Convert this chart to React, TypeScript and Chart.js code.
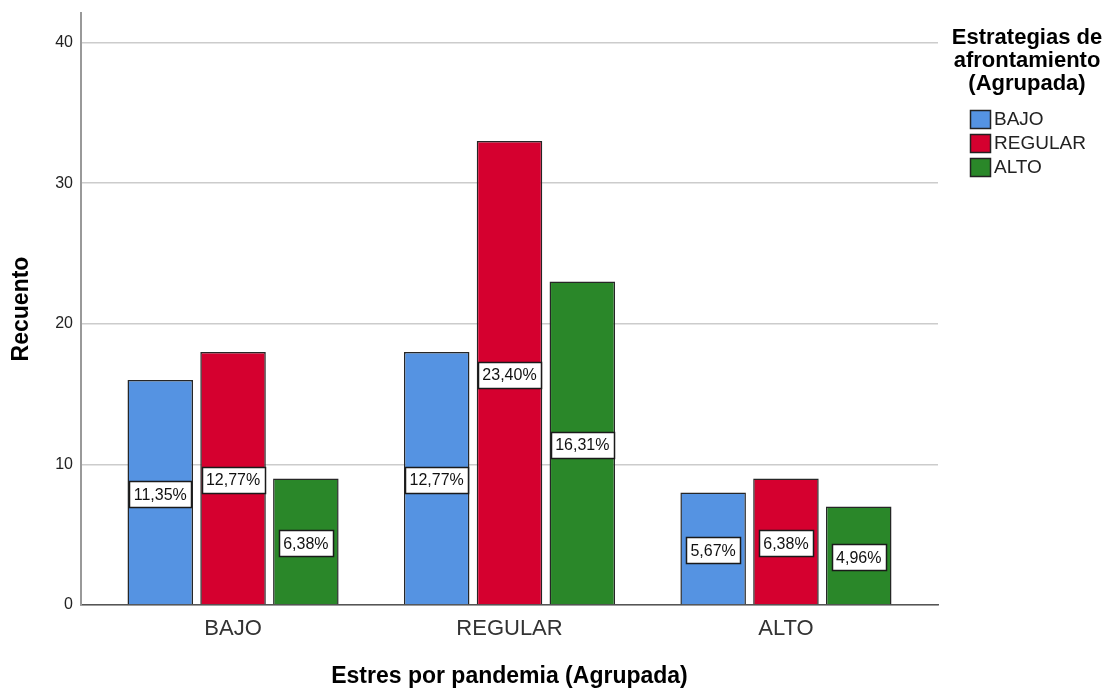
import React, { useEffect, useRef } from "react";
import { Chart, registerables } from "chart.js";

Chart.register(...registerables);

const FONT = '"Liberation Sans", Arial, Helvetica, sans-serif';

// Categories on the x axis (Estres por pandemia)
const categories = ["BAJO", "REGULAR", "ALTO"];
// Series (Estrategias de afrontamiento)
const seriesNames = ["BAJO", "REGULAR", "ALTO"];
const bajoValues = [16, 18, 8];
const regularValues = [18, 33, 9];
const altoValues = [9, 23, 7];
const yTicks = [0, 10, 20, 30, 40];

const legendTitle = ["Estrategias de", "afrontamiento", "(Agrupada)"];
const xTitle = "Estres por pandemia (Agrupada)";
const yTitle = "Recuento";
const seriesColors = ["#5593E2", "#D5002F", "#2A8729"];

export default function App() {
  const ref = useRef<HTMLCanvasElement>(null);

  useEffect(() => {
    const canvas = ref.current;
    if (!canvas) return;
    const seriesValues = [bajoValues, regularValues, altoValues];
    const total = seriesValues.flat().reduce((a, b) => a + b, 0);

    const labelPlugin = {
      id: "pctLabels",
      afterDatasetsDraw(chart: any) {
        const ctx = chart.ctx as CanvasRenderingContext2D;
        ctx.save();
        ctx.font = `16px ${FONT}`;
        ctx.textAlign = "center";
        ctx.textBaseline = "middle";
        chart.data.datasets.forEach((ds: any, di: number) => {
          const meta = chart.getDatasetMeta(di);
          meta.data.forEach((el: any, i: number) => {
            const { x, y, base } = el.getProps(["x", "y", "base"], true);
            const v = ds.data[i].y;
            const txt = ((v / total) * 100).toFixed(2).replace(".", ",") + "%";
            const w = Math.round(ctx.measureText(txt).width + 9);
            const h = 26;
            const cy = (y + base) / 2 + 2;
            const left = Math.round(x - w / 2) + 0.5;
            const top = Math.round(cy - h / 2) + 0.5;
            ctx.fillStyle = "#ffffff";
            ctx.fillRect(left, top, w, h);
            ctx.strokeStyle = "#1a1a1a";
            ctx.lineWidth = 1.5;
            ctx.strokeRect(left, top, w, h);
            ctx.fillStyle = "#111111";
            ctx.fillText(txt, x, cy + 1);
          });
        });
        ctx.restore();
      },
    };

    const legendPlugin = {
      id: "customLegend",
      afterDraw(chart: any) {
        const ctx = chart.ctx as CanvasRenderingContext2D;
        ctx.save();
        ctx.font = `bold 22px ${FONT}`;
        ctx.fillStyle = "#000000";
        ctx.textAlign = "center";
        ctx.textBaseline = "middle";
        legendTitle.forEach((t, i) => ctx.fillText(t, 1027, 38 + i * 23));
        ctx.font = `19px ${FONT}`;
        ctx.textAlign = "left";
        chart.data.datasets.forEach((ds: any, i: number) => {
          const cy = 119 + i * 24;
          ctx.fillStyle = ds.backgroundColor;
          ctx.fillRect(970.5, cy - 9 + 0.5, 20, 18);
          ctx.strokeStyle = "#222222";
          ctx.lineWidth = 1.5;
          ctx.strokeRect(970.5, cy - 9 + 0.5, 20, 18);
          ctx.fillStyle = "#222222";
          ctx.fillText(ds.label, 994, cy + 1);
        });
        ctx.restore();
      },
    };

    const chart = new Chart(canvas, {
      type: "bar",
      data: {
        datasets: seriesNames.map((name, si) => ({
          label: name,
          data: categories.map((_, ci) => ({ x: ci, y: seriesValues[si][ci] })),
          backgroundColor: seriesColors[si],
          borderColor: "#262626",
          borderWidth: 1.5,
          barPercentage: 0.9,
          categoryPercentage: 0.79,
        })),
      },
      options: {
        animation: false,
        responsive: false,
        devicePixelRatio: 1,
        layout: { padding: { top: 13, right: 174, bottom: 0, left: 0 } },
        plugins: {
          legend: { display: false },
          tooltip: { enabled: false },
        },
        scales: {
          x: {
            type: "linear",
            offset: false,
            min: -0.55,
            max: 2.55,
            afterBuildTicks: (s: any) => {
              s.ticks = categories.map((_, i) => ({ value: i }));
            },
            afterFit: (s: any) => {
              s.height = 85;
              s.paddingLeft = 0;
              s.paddingRight = 0;
            },
            ticks: {
              callback: (v: any) => categories[v as number] ?? "",
              font: { family: FONT, size: 22 },
              color: "#333333",
              padding: 11,
              maxRotation: 0,
              autoSkip: false,
            },
            grid: { display: false, drawTicks: false, offset: false },
            border: { display: true, color: "#555555", width: 1.5 },
            title: {
              display: true,
              text: xTitle,
              font: { family: FONT, size: 23, weight: "bold" },
              color: "#000000",
              padding: { top: 0, bottom: 0 },
            },
          },
          y: {
            min: 0,
            max: 42.1,
            afterBuildTicks: (s: any) => {
              s.ticks = yTicks.map((v) => ({ value: v }));
            },
            afterFit: (s: any) => {
              s.width = 81;
              s.paddingTop = 0;
              s.paddingBottom = 0;
            },
            ticks: {
              font: { family: FONT, size: 16 },
              color: "#222222",
              padding: 8,
            },
            grid: { color: "#cccccc", lineWidth: 1.5, drawTicks: false },
            border: { color: "#999999", width: 2 },
            title: {
              display: true,
              text: yTitle,
              font: { family: FONT, size: 23, weight: "bold" },
              color: "#000000",
              padding: { top: 8, bottom: 0 },
            },
          },
        },
      } as any,
      plugins: [labelPlugin, legendPlugin],
    });

    return () => chart.destroy();
  }, []);

  return (
    <div style={{ position: "absolute", left: 0, top: 0, width: 1112, height: 690, background: "#ffffff" }}>
      <canvas ref={ref} width={1112} height={690} style={{ display: "block", width: 1112, height: 690 }} />
    </div>
  );
}
